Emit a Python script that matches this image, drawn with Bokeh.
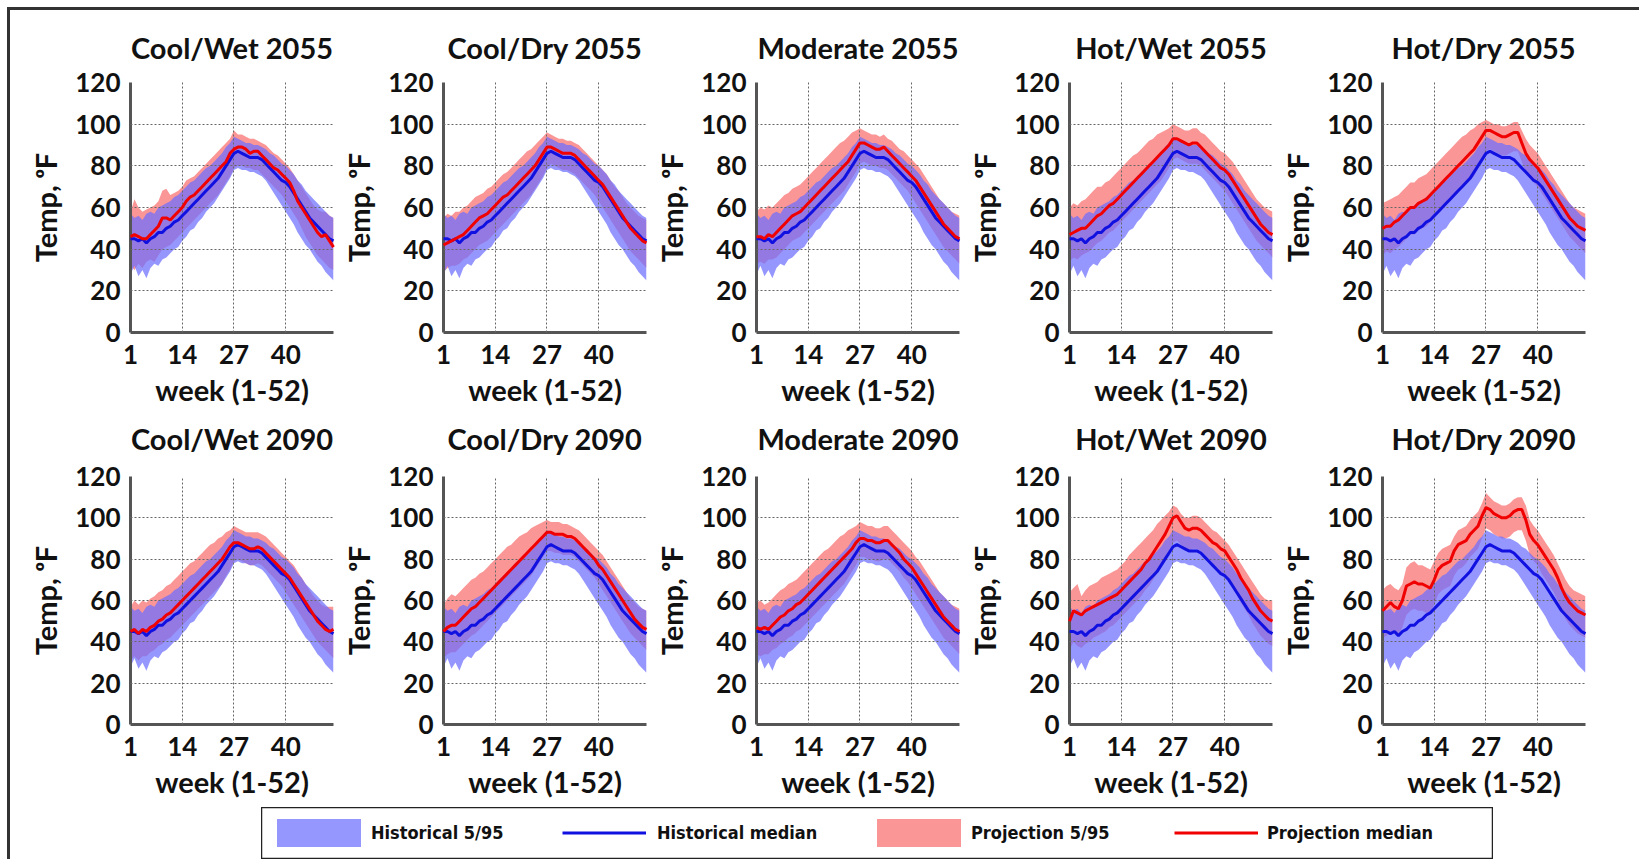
from bokeh.plotting import figure
from bokeh.models import Range1d, FixedTicker, Legend, LegendItem, ColumnDataSource, Spacer
from bokeh.layouts import column, row
from bokeh.embed import file_html
from bokeh.resources import INLINE

weeks = list(range(1, 53))
x_ticks = [1, 14, 27, 40]
y_ticks = [0, 20, 40, 60, 80, 100, 120]

titles_2055 = ["Cool/Wet 2055", "Cool/Dry 2055", "Moderate 2055", "Hot/Wet 2055", "Hot/Dry 2055"]
titles_2090 = ["Cool/Wet 2090", "Cool/Dry 2090", "Moderate 2090", "Hot/Wet 2090", "Hot/Dry 2090"]

# Historical (same in every panel)
hist_med = [45, 45, 44, 45, 43, 45, 46, 48, 48, 50, 51, 53, 54, 56, 58, 60, 62, 64, 66, 68, 70, 72, 74, 77, 80, 83,
            86, 87, 86, 85, 84, 84, 84, 83, 81, 79, 77, 75, 73, 72, 70, 67, 64, 61, 58, 55, 53, 51, 49, 47, 45, 44]
hist_lo = [28, 32, 27, 30, 26, 31, 33, 32, 35, 36, 38, 40, 41, 44, 46, 49, 50, 53, 55, 58, 60, 62, 65, 68, 71, 74,
           78, 79, 78, 78, 77, 77, 76, 75, 73, 70, 67, 64, 61, 58, 55, 52, 48, 45, 42, 40, 37, 34, 32, 29, 27, 25]
hist_hi = [57, 55, 56, 54, 57, 58, 57, 60, 61, 62, 63, 65, 66, 68, 70, 72, 73, 75, 77, 79, 80, 82, 84, 86, 89, 91,
           94, 93, 92, 91, 91, 90, 90, 89, 88, 86, 85, 83, 81, 80, 78, 76, 73, 71, 68, 66, 64, 62, 60, 58, 56, 55]

# Projections, 2055
cw55_med = [46, 47, 46, 45, 45, 47, 49, 51, 55, 55, 54, 56, 58, 60, 63, 65, 66, 68, 70, 72, 74, 76, 78, 80, 82, 86,
            88, 89, 89, 88, 86, 87, 87, 85, 83, 81, 79, 78, 76, 74, 72, 68, 63, 60, 57, 54, 51, 48, 46, 47, 44, 41]
cw55_lo = [32, 30, 33, 31, 34, 35, 34, 37, 40, 41, 42, 44, 46, 48, 50, 52, 54, 56, 58, 60, 62, 64, 66, 69, 72, 75,
           79, 80, 80, 79, 79, 78, 78, 76, 74, 72, 70, 68, 66, 63, 60, 57, 54, 50, 46, 43, 40, 37, 35, 33, 31, 30]
cw55_hi = [58, 64, 60, 58, 59, 60, 61, 63, 68, 69, 66, 67, 68, 70, 73, 74, 75, 77, 79, 81, 83, 85, 87, 89, 91, 93,
           97, 95, 95, 94, 93, 93, 92, 91, 90, 88, 86, 85, 83, 81, 79, 76, 73, 70, 67, 64, 61, 59, 58, 58, 56, 55]

cd55_med = [42, 43, 44, 45, 46, 47, 49, 51, 53, 55, 56, 57, 59, 61, 63, 65, 66, 68, 70, 72, 74, 76, 78, 80, 83, 86,
            89, 89, 88, 87, 86, 86, 86, 85, 83, 81, 79, 77, 75, 73, 71, 68, 65, 62, 59, 56, 53, 50, 48, 46, 44, 43]
cd55_lo = [29, 31, 32, 32, 33, 35, 36, 38, 40, 42, 43, 44, 46, 48, 50, 52, 54, 56, 58, 60, 62, 64, 66, 69, 72, 75,
           79, 81, 80, 79, 78, 78, 77, 76, 74, 72, 70, 68, 66, 63, 60, 57, 54, 51, 48, 45, 42, 39, 37, 35, 33, 31]
cd55_hi = [55, 57, 56, 58, 58, 60, 61, 63, 65, 66, 67, 69, 70, 72, 74, 76, 77, 79, 81, 83, 85, 87, 88, 90, 92, 94,
           96, 95, 94, 93, 93, 92, 92, 91, 90, 88, 86, 84, 82, 80, 78, 76, 73, 70, 68, 65, 62, 60, 58, 56, 55, 54]

md55_med = [46, 46, 45, 47, 46, 48, 50, 52, 54, 56, 57, 58, 60, 62, 64, 66, 68, 70, 72, 74, 76, 78, 80, 82, 85, 88,
            91, 91, 90, 89, 88, 88, 89, 87, 85, 83, 81, 79, 77, 75, 73, 70, 67, 64, 61, 58, 55, 52, 50, 48, 46, 45]
md55_lo = [33, 34, 33, 35, 35, 36, 38, 40, 42, 44, 45, 46, 48, 50, 52, 54, 56, 58, 60, 62, 64, 66, 68, 71, 74, 77,
           81, 82, 81, 80, 80, 79, 79, 78, 76, 74, 72, 70, 68, 65, 62, 59, 56, 53, 50, 47, 44, 41, 39, 37, 35, 33]
md55_hi = [58, 60, 59, 61, 60, 62, 64, 66, 67, 69, 70, 71, 73, 75, 77, 79, 81, 83, 85, 87, 89, 91, 92, 94, 96, 97,
           98, 97, 96, 95, 95, 94, 95, 93, 92, 90, 88, 87, 85, 83, 81, 79, 76, 73, 70, 67, 64, 62, 60, 58, 57, 56]

hw55_med = [47, 48, 49, 50, 50, 52, 54, 56, 57, 59, 61, 62, 64, 66, 68, 70, 72, 74, 76, 78, 80, 82, 84, 86, 88, 90,
            93, 93, 92, 91, 90, 91, 91, 89, 87, 85, 83, 81, 79, 78, 76, 73, 70, 67, 64, 61, 58, 55, 52, 50, 48, 47]
hw55_lo = [34, 36, 35, 37, 38, 39, 41, 43, 44, 46, 48, 49, 51, 53, 55, 57, 59, 61, 63, 65, 67, 69, 71, 73, 76, 79,
           83, 84, 83, 82, 81, 81, 81, 80, 78, 76, 74, 72, 70, 68, 65, 62, 59, 56, 53, 50, 47, 44, 42, 40, 38, 36]
hw55_hi = [60, 62, 61, 63, 64, 66, 68, 70, 70, 72, 73, 75, 77, 79, 81, 83, 85, 86, 88, 90, 92, 93, 95, 96, 97, 98,
           100, 99, 98, 97, 97, 98, 98, 96, 95, 93, 91, 89, 87, 86, 84, 82, 79, 76, 73, 70, 67, 64, 62, 60, 59, 58]

hd55_med = [50, 51, 51, 53, 54, 56, 58, 60, 60, 62, 63, 64, 66, 68, 70, 72, 74, 76, 78, 80, 82, 84, 86, 88, 91, 94,
            97, 97, 96, 95, 94, 94, 95, 96, 96, 91, 86, 83, 81, 79, 76, 73, 70, 67, 64, 61, 58, 55, 53, 51, 50, 49]
hd55_lo = [37, 39, 38, 40, 41, 43, 45, 47, 47, 49, 50, 51, 53, 55, 57, 59, 61, 63, 65, 67, 69, 71, 73, 75, 79, 83,
           87, 88, 87, 86, 85, 85, 86, 87, 87, 82, 77, 74, 72, 70, 67, 64, 61, 58, 55, 52, 49, 46, 44, 42, 40, 38]
hd55_hi = [62, 63, 64, 65, 66, 68, 70, 72, 72, 74, 75, 76, 78, 80, 82, 84, 86, 88, 90, 92, 94, 95, 97, 98, 100, 101,
           102, 101, 100, 100, 99, 99, 100, 101, 101, 97, 93, 90, 88, 86, 83, 80, 77, 74, 71, 68, 65, 62, 60, 59, 58, 57]

# Projections, 2090
cw90_med = [45, 46, 44, 46, 45, 47, 48, 50, 51, 53, 54, 56, 58, 60, 62, 64, 66, 68, 70, 72, 74, 76, 78, 80, 83, 86,
            88, 88, 87, 86, 85, 85, 86, 85, 83, 81, 79, 77, 75, 73, 71, 68, 65, 62, 59, 56, 53, 50, 48, 46, 45, 46]
cw90_lo = [31, 33, 31, 33, 33, 35, 36, 38, 39, 41, 42, 44, 46, 48, 50, 52, 54, 56, 58, 60, 62, 64, 66, 68, 72, 75,
           79, 80, 79, 78, 77, 77, 78, 77, 75, 73, 71, 69, 67, 64, 61, 58, 55, 52, 49, 46, 43, 40, 38, 36, 34, 32]
cw90_hi = [57, 60, 58, 60, 59, 61, 62, 64, 65, 67, 68, 70, 72, 74, 76, 78, 79, 81, 83, 85, 87, 88, 90, 91, 93, 94,
           96, 95, 94, 93, 93, 93, 93, 92, 91, 89, 87, 85, 83, 81, 79, 77, 74, 71, 68, 65, 62, 60, 58, 57, 57, 57]

cd90_med = [45, 47, 48, 48, 50, 52, 54, 56, 57, 59, 61, 63, 65, 67, 69, 71, 73, 75, 77, 79, 81, 83, 85, 87, 89, 91,
            93, 93, 92, 92, 92, 91, 91, 90, 88, 86, 84, 82, 80, 77, 75, 72, 69, 66, 63, 60, 57, 54, 51, 49, 47, 46]
cd90_lo = [32, 34, 35, 35, 37, 39, 41, 43, 44, 46, 48, 50, 52, 54, 56, 58, 60, 62, 64, 66, 68, 70, 72, 75, 78, 81,
           84, 84, 83, 83, 82, 82, 82, 81, 79, 77, 75, 73, 71, 68, 65, 62, 59, 56, 53, 50, 47, 44, 42, 40, 38, 36]
cd90_hi = [58, 61, 63, 62, 64, 66, 68, 70, 71, 73, 74, 76, 78, 80, 82, 84, 86, 87, 89, 91, 92, 93, 95, 96, 97, 98,
           99, 98, 98, 98, 97, 97, 96, 95, 94, 92, 90, 88, 86, 84, 82, 79, 76, 73, 70, 67, 64, 61, 59, 57, 56, 55]

md90_med = [47, 46, 47, 46, 48, 50, 52, 53, 55, 56, 58, 59, 61, 63, 65, 67, 69, 71, 73, 75, 77, 79, 81, 83, 85, 88,
            90, 90, 89, 89, 88, 88, 89, 89, 87, 85, 83, 80, 78, 76, 73, 70, 67, 64, 61, 58, 55, 52, 50, 48, 46, 45]
md90_lo = [34, 33, 34, 34, 36, 37, 39, 40, 42, 43, 45, 46, 48, 50, 52, 54, 56, 58, 60, 62, 64, 66, 68, 71, 74, 77,
           81, 81, 80, 80, 79, 79, 80, 80, 78, 76, 74, 71, 69, 66, 63, 60, 57, 54, 51, 48, 45, 42, 40, 38, 36, 34]
md90_hi = [59, 60, 58, 59, 61, 63, 65, 66, 68, 69, 70, 72, 74, 76, 78, 80, 82, 84, 85, 87, 89, 91, 92, 94, 95, 96,
           98, 97, 96, 96, 95, 95, 96, 96, 94, 92, 90, 88, 86, 84, 81, 79, 76, 73, 70, 67, 64, 62, 60, 58, 57, 56]

hw90_med = [50, 55, 54, 53, 55, 56, 57, 58, 59, 60, 61, 62, 63, 65, 67, 69, 71, 73, 75, 78, 80, 83, 86, 89, 92, 96,
            100, 101, 98, 95, 94, 95, 95, 94, 92, 90, 88, 87, 85, 84, 81, 78, 75, 71, 68, 65, 61, 58, 55, 53, 51, 50]
hw90_lo = [36, 40, 38, 37, 39, 40, 42, 43, 44, 45, 47, 48, 50, 52, 54, 56, 58, 60, 62, 65, 67, 70, 73, 76, 80, 84,
           88, 89, 87, 85, 84, 85, 85, 84, 82, 80, 78, 76, 74, 72, 69, 66, 63, 59, 56, 53, 49, 46, 43, 41, 39, 38]
hw90_hi = [64, 66, 68, 62, 65, 67, 68, 69, 71, 72, 73, 74, 75, 77, 79, 82, 84, 86, 88, 90, 92, 94, 97, 99, 101, 103,
           106, 105, 102, 100, 100, 101, 101, 100, 98, 96, 94, 93, 91, 89, 87, 84, 81, 78, 75, 72, 69, 66, 63, 61, 60, 60]

hd90_med = [55, 57, 59, 57, 56, 60, 67, 68, 69, 68, 68, 67, 66, 70, 75, 77, 78, 79, 84, 87, 88, 89, 92, 94, 96, 101,
            105, 104, 102, 101, 100, 100, 101, 103, 104, 104, 99, 92, 89, 87, 84, 81, 78, 75, 71, 66, 62, 59, 57, 55, 54, 53]
hd90_lo = [42, 43, 45, 44, 43, 47, 53, 55, 56, 55, 55, 54, 54, 58, 63, 65, 66, 67, 72, 75, 76, 78, 81, 83, 85, 90,
           95, 94, 92, 91, 90, 90, 91, 93, 94, 94, 89, 82, 79, 77, 73, 70, 67, 64, 60, 55, 51, 48, 46, 44, 43, 42]
hd90_hi = [65, 67, 68, 66, 65, 68, 76, 78, 79, 77, 77, 76, 75, 79, 83, 85, 86, 87, 91, 94, 95, 96, 99, 101, 103, 107,
           112, 110, 108, 107, 106, 106, 107, 109, 110, 110, 106, 99, 96, 94, 91, 88, 85, 82, 78, 74, 70, 67, 65, 64, 63, 62]

proj_2055 = [(cw55_lo, cw55_hi, cw55_med), (cd55_lo, cd55_hi, cd55_med), (md55_lo, md55_hi, md55_med),
             (hw55_lo, hw55_hi, hw55_med), (hd55_lo, hd55_hi, hd55_med)]
proj_2090 = [(cw90_lo, cw90_hi, cw90_med), (cd90_lo, cd90_hi, cd90_med), (md90_lo, md90_hi, md90_med),
             (hw90_lo, hw90_hi, hw90_med), (hd90_lo, hd90_hi, hd90_med)]

legend_labels = ["Historical 5/95", "Historical median", "Projection 5/95", "Projection median"]

FONT = "Lato"
HIST_FILL = "#6e6eff"
PROJ_FILL = "#fa9696"
HIST_LINE = "#1010e0"
PROJ_LINE = "#f00000"
LEFT, RIGHT, FRAME_W, BOTTOM = 108, 2, 203, 82


def make_panel(title, proj, top, frame_h, title_standoff):
    lo, hi, med = proj
    p = figure(width=LEFT + FRAME_W + RIGHT, height=top + frame_h + BOTTOM, output_backend="svg",
               toolbar_location=None, x_range=Range1d(1, 52), y_range=Range1d(0, 120),
               min_border_left=LEFT, min_border_right=RIGHT, min_border_top=top, min_border_bottom=BOTTOM,
               title=title)
    p.outline_line_color = None
    p.background_fill_color = "white"
    p.border_fill_alpha = 0
    p.title.align = "center"
    p.title.text_font = FONT
    p.title.text_font_size = "29px"
    p.title.text_font_style = "bold"
    p.title.text_color = "#111111"
    p.title.standoff = title_standoff

    src = ColumnDataSource(dict(w=weeks, hlo=hist_lo, hhi=hist_hi, hmed=hist_med, plo=lo, phi=hi, pmed=med))
    p.varea(x="w", y1="plo", y2="phi", source=src, fill_color=PROJ_FILL, fill_alpha=1.0)
    p.varea(x="w", y1="hlo", y2="hhi", source=src, fill_color=HIST_FILL, fill_alpha=0.72)
    p.line(x="w", y="hmed", source=src, line_color=HIST_LINE, line_width=3, level="annotation")
    p.line(x="w", y="pmed", source=src, line_color=PROJ_LINE, line_width=3, level="annotation")

    p.xaxis.ticker = FixedTicker(ticks=x_ticks)
    p.yaxis.ticker = FixedTicker(ticks=y_ticks)
    p.xaxis.axis_label = "week (1-52)"
    p.yaxis.axis_label = "Temp, \u1d52F"
    for ax in (p.xaxis, p.yaxis):
        ax.axis_line_width = 3
        ax.axis_line_color = "#555555"
        ax.major_tick_line_color = None
        ax.minor_tick_line_color = None
        ax.major_label_text_font = FONT
        ax.major_label_text_font_size = "26px"
        ax.major_label_text_font_style = "bold"
        ax.major_label_text_color = "#111111"
        ax.axis_label_text_font = FONT
        ax.axis_label_text_font_style = "bold"
        ax.axis_label_text_color = "#111111"
    p.xaxis.axis_label_text_font_size = "29px"
    p.yaxis.axis_label_text_font_size = "29px"
    p.xaxis.major_label_standoff = 6
    p.xaxis.axis_label_standoff = 5
    p.yaxis.major_label_standoff = 4
    p.yaxis.axis_label_standoff = 9

    for g in (p.xgrid, p.ygrid):
        g.grid_line_color = "#666666"
        g.grid_line_dash = "2 2"
        g.grid_line_width = 1
        g.level = "guide"
    p.xgrid.ticker = FixedTicker(ticks=x_ticks)
    p.ygrid.ticker = FixedTicker(ticks=y_ticks)
    return p


row1 = [make_panel(t, pr, 72, 250, 35) for t, pr in zip(titles_2055, proj_2055)]
row2 = [make_panel(t, pr, 78, 248, 41) for t, pr in zip(titles_2090, proj_2090)]

# Legend box; its renderers hold the historical data but lie outside the visible range
leg = figure(width=1232, height=52, output_backend="svg", toolbar_location=None,
             x_axis_type=None, y_axis_type=None, min_border=0,
             x_range=Range1d(1000, 1001), y_range=Range1d(1000, 1001))
leg.grid.visible = False
leg.outline_line_color = "#222222"
leg.outline_line_width = 1.5
lsrc = ColumnDataSource(dict(w=weeks, hlo=hist_lo, hhi=hist_hi, hmed=hist_med))
r_hb = leg.varea(x="w", y1="hlo", y2="hhi", source=lsrc, fill_color=HIST_FILL, fill_alpha=0.72)
r_hm = leg.line(x="w", y="hmed", source=lsrc, line_color=HIST_LINE, line_width=3)
r_pb = leg.varea(x="w", y1="hlo", y2="hhi", source=lsrc, fill_color=PROJ_FILL, fill_alpha=1.0)
r_pm = leg.line(x="w", y="hmed", source=lsrc, line_color=PROJ_LINE, line_width=3)

leg_specs = [(legend_labels[0], r_hb, (5, 9), 105, 0),
             (legend_labels[1], r_hm, (301, 9), 84, 11),
             (legend_labels[2], r_pb, (605, 9), 105, 0),
             (legend_labels[3], r_pm, (913, 9), 84, 9)]
for label, rend, loc, gw, so in leg_specs:
    lg = Legend(items=[LegendItem(label=label, renderers=[rend])],
                orientation="horizontal", location=loc, glyph_width=gw, glyph_height=35,
                label_height=35, label_standoff=so, padding=0, margin=0,
                border_line_color=None, background_fill_alpha=0,
                label_text_font="DejaVu Sans Condensed", label_text_font_style="bold",
                label_text_font_size="18px", label_text_color="#111111")
    leg.add_layout(lg, "center")

layout = column(
    row(Spacer(width=12), *row1),
    row(Spacer(width=12), *row2, margin=(-16, 0, 0, 0)),
    Spacer(height=1),
    row(Spacer(width=251), leg),
    width=1632,
    margin=(7, 0, 0, 7),
    styles={"border-top": "3px solid #333333", "border-left": "3px solid #333333",
            "background-color": "white"},
)

open("out.html", "w").write(file_html(layout, INLINE))
